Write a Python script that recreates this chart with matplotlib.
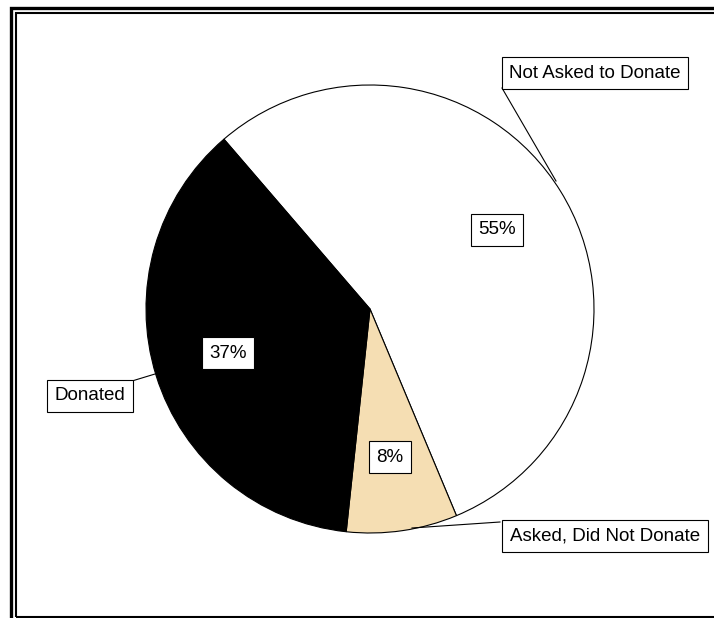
import matplotlib.pyplot as plt
from matplotlib.patches import Rectangle
import numpy as np

plt.rcParams['font.family'] = ['Liberation Sans', 'DejaVu Sans']

categories = ["Not Asked to Donate", "Asked, Did Not Donate", "Donated"]
shares = [55, 8, 37]
colors = ["#ffffff", "#f5deb3", "#000000"]

W, H = 714, 618
fig = plt.figure(figsize=(W / 100, H / 100), dpi=100)
ax = fig.add_axes([0, 0, 1, 1])

def py(y):
    # pixel row -> data y
    return H - y

# double frame on left/top, single at bottom
ax.add_patch(Rectangle((11.2, py(625)), 800, 625 - 8.2, fill=False, lw=2.4, ec="black"))
ax.add_patch(Rectangle((16.3, py(616.5)), 800, 616.5 - 13.3, fill=False, lw=1.5, ec="black"))

cx, cy, r = 370, py(309), 224
wedges, _ = ax.pie(shares, colors=colors, startangle=130.7, counterclock=False,
                   center=(cx, cy), radius=r,
                   wedgeprops=dict(edgecolor="black", linewidth=0.8))

box = dict(boxstyle="square,pad=0.4", fc="white", ec="black", lw=0.8)

# percentage labels
pct_pos = [(497, 230), (390, 457), (228, 353)]
for s, (x, y) in zip(shares, pct_pos):
    ax.text(x, py(y), f"{s}%", ha="center", va="center", fontsize=13.5, bbox=box, zorder=5)

# category labels with leader lines
cat_pos = [(595, 73), (605, 536), (90, 396)]
leaders = [((502, 88), (556, 181)), ((500, 522), (412, 528)), ((132, 381), (155, 374))]
for name, (x, y), (p0, p1) in zip(categories, cat_pos, leaders):
    ax.plot([p0[0], p1[0]], [py(p0[1]), py(p1[1])], color="black", lw=0.8, zorder=4)
    ax.text(x, py(y), name, ha="center", va="center", fontsize=13.5, bbox=box, zorder=5)

ax.set_xlim(0, W)
ax.set_ylim(0, H)
ax.set_aspect("equal")
ax.axis("off")

fig.savefig("out.png", dpi=100, facecolor="white")
